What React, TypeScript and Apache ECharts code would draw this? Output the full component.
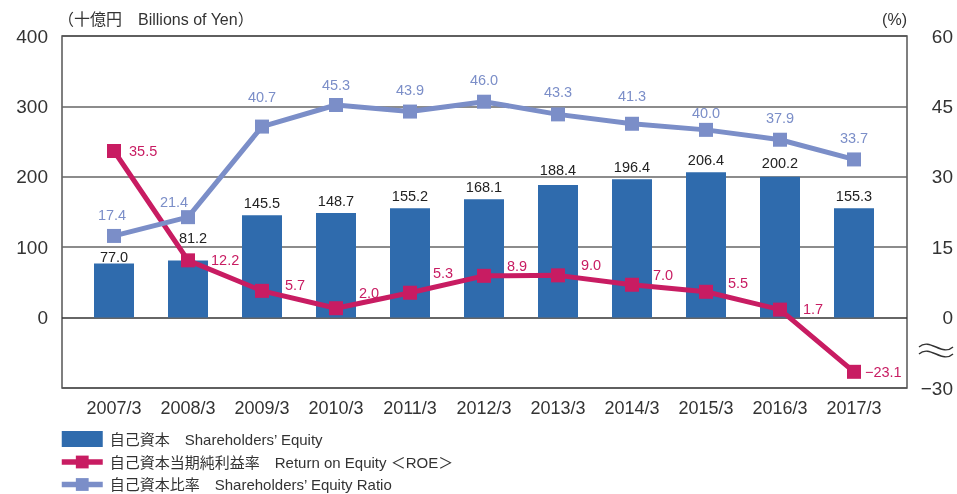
import React, { useEffect, useRef } from "react";
import * as echarts from "echarts";

const categories = ["2007/3", "2008/3", "2009/3", "2010/3", "2011/3", "2012/3", "2013/3", "2014/3", "2015/3", "2016/3", "2017/3"];
const equity = [77.0, 81.2, 145.5, 148.7, 155.2, 168.1, 188.4, 196.4, 206.4, 200.2, 155.3];
const roe = [35.5, 12.2, 5.7, 2.0, 5.3, 8.9, 9.0, 7.0, 5.5, 1.7, -23.1];
const equityRatio = [17.4, 21.4, 40.7, 45.3, 43.9, 46.0, 43.3, 41.3, 40.0, 37.9, 33.7];

const seriesNames = [
  "自己資本\u3000Shareholders’ Equity",
  "自己資本当期純利益率\u3000Return on Equity ＜ROE＞",
  "自己資本比率\u3000Shareholders’ Equity Ratio",
];
const unitLeft = "（十億円\u3000Billions of Yen）";
const unitRight = "(%)";

const FONT = "'Liberation Sans', Arial, 'Noto Sans CJK JP', sans-serif";
const BAR = "#2f6bad";
const ROE_C = "#c81c62";
const RATIO_C = "#7b8ec8";

// broken right axis: negative side is drawn at half scale
const toAxis = (v: number) => (v < 0 ? v / 2 : v);
const fmt = (v: number) => (v < 0 ? "−" + Math.abs(v).toFixed(1) : v.toFixed(1));

export default function App() {
  const ref = useRef<HTMLDivElement>(null);
  useEffect(() => {
    if (!ref.current) return;
    const chart = echarts.init(ref.current, undefined, { renderer: "svg" });

    const barDist = [-1, 15, 5, 5, 5, 5, 8, 5, 5, 6, 5];
    const barDx = [0, 5, 0, 0, 0, 0, 0, 0, 0, 0, 0];
    const roeDist = [8, 16, 16, 16, 16, 16, 16, 14, 15, 16, 4];
    const roeDy = [0, 0, -6, -15, -20, -10, -10, -10, -9, -1, 0];
    const ratioDist = [7, 1, 15, 6, 7, 7, 8, 14, 3, 7, 7];
    const ratioDx = [-2, -14, 0, 0, 0, 0, 0, 0, 0, 0, 0];

    const option: any = {
      animation: false,
      textStyle: { fontFamily: FONT },
      grid: [
        { left: 62, right: 50, top: 36, bottom: 106, show: true, borderColor: "#555", borderWidth: 1.5, backgroundColor: "transparent", z: 0 },
        { left: 77, right: 66, top: 36, bottom: 106 },
      ],
      legend: {
        orient: "vertical",
        left: 59,
        top: 431,
        padding: 0,
        itemWidth: 41,
        itemHeight: 16,
        itemGap: 7.5,
        data: [
          { name: seriesNames[0], icon: "rect" },
          { name: seriesNames[1], lineStyle: { width: 5.5 } },
          { name: seriesNames[2], lineStyle: { width: 5.5 } },
        ],
        textStyle: { fontSize: 15, color: "#333", fontFamily: FONT, padding: [0, 0, 0, 2] },
      },
      xAxis: [
        { type: "category", gridIndex: 0, data: categories, show: false },
        {
          type: "category",
          gridIndex: 1,
          data: categories,
          axisLine: { show: false },
          axisTick: { show: false },
          axisLabel: { fontSize: 18, color: "#333", margin: 11, fontFamily: FONT },
        },
      ],
      yAxis: [
        {
          type: "value",
          gridIndex: 0,
          position: "left",
          min: -100,
          max: 400,
          interval: 100,
          axisLine: { show: false },
          axisTick: { show: false },
          axisLabel: {
            fontSize: 19,
            color: "#333",
            margin: 14,
            formatter: (v: number) => (v < 0 ? "" : String(v)),
          },
          splitLine: { lineStyle: { color: ["#555", "#333", "#666", "#666", "#666", "#555"], width: 1.6 } },
        },
        {
          type: "value",
          gridIndex: 0,
          position: "right",
          min: -15,
          max: 60,
          interval: 15,
          axisLine: { show: false },
          axisTick: { show: false },
          splitLine: { show: false },
          axisLabel: {
            fontSize: 19,
            color: "#333",
            margin: 46,
            align: "right",
            formatter: (v: number) => (v < 0 ? "−" + Math.abs(v * 2) : String(v)),
          },
        },
        { type: "value", gridIndex: 1, min: -100, max: 400, interval: 100, show: false, splitLine: { show: false } },
        { type: "value", gridIndex: 1, min: -15, max: 60, interval: 15, show: false, splitLine: { show: false } },
      ],
      series: [
        {
          name: seriesNames[0],
          type: "bar",
          xAxisIndex: 1,
          yAxisIndex: 2,
          barWidth: 40,
          itemStyle: { color: BAR },
          z: 2,
          data: equity.map((v, i) => ({
            value: v,
            label: { distance: barDist[i], offset: [barDx[i], 0] },
          })),
          label: {
            show: true,
            position: "top",
            fontSize: 14.5,
            color: "#222",
            formatter: (p: any) => fmt(equity[p.dataIndex]),
          },
        },
        {
          name: seriesNames[1],
          type: "line",
          xAxisIndex: 1,
          yAxisIndex: 3,
          symbol: "rect",
          symbolSize: 14,
          z: 3,
          lineStyle: { color: ROE_C, width: 5 },
          itemStyle: { color: ROE_C },
          data: roe.map((v, i) => ({
            value: toAxis(v),
            label: { distance: roeDist[i], offset: [0, roeDy[i]] },
          })),
          label: {
            show: true,
            position: "right",
            fontSize: 14.5,
            color: ROE_C,
            formatter: (p: any) => fmt(roe[p.dataIndex]),
          },
        },
        {
          name: seriesNames[2],
          type: "line",
          xAxisIndex: 1,
          yAxisIndex: 3,
          symbol: "rect",
          symbolSize: 14,
          z: 4,
          lineStyle: { color: RATIO_C, width: 5 },
          itemStyle: { color: RATIO_C },
          data: equityRatio.map((v, i) => ({
            value: v,
            label: { distance: ratioDist[i], offset: [ratioDx[i], 0] },
          })),
          label: {
            show: true,
            position: "top",
            fontSize: 14.5,
            color: RATIO_C,
            formatter: (p: any) => fmt(equityRatio[p.dataIndex]),
          },
        },
      ],
      graphic: [
        {
          type: "text",
          left: 58,
          top: 11,
          style: { text: unitLeft, fontSize: 16, fill: "#333", fontFamily: FONT },
        },
        {
          type: "text",
          right: 50,
          top: 11,
          style: { text: unitRight, fontSize: 16, fill: "#333", fontFamily: FONT },
        },
        {
          type: "bezierCurve",
          shape: { x1: 919, y1: 347, x2: 953, y2: 347, cpx1: 930, cpy1: 337, cpx2: 942, cpy2: 357 },
          style: { stroke: "#333", lineWidth: 1.4, fill: null },
        },
        {
          type: "bezierCurve",
          shape: { x1: 919, y1: 354, x2: 953, y2: 354, cpx1: 930, cpy1: 344, cpx2: 942, cpy2: 364 },
          style: { stroke: "#333", lineWidth: 1.4, fill: null },
        },
      ],
    };
    chart.setOption(option);
    return () => chart.dispose();
  }, []);
  return <div ref={ref} style={{ position: "fixed", left: 0, top: 0, width: 957, height: 494 }} />;
}
